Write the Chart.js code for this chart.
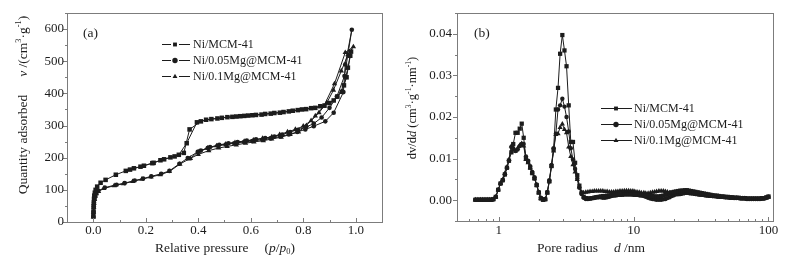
<!DOCTYPE html>
<html>
<head>
<meta charset="utf-8">
<script src="https://cdn.jsdelivr.net/npm/chart.js"></script>
<style>
    html, body { margin: 0; padding: 0; background: #ffffff; }
    #wrap { position: relative; width: 787px; height: 267px; }
    canvas { position: absolute; top: 0; }
</style>
</head>
<body>
<div id="wrap">
    <canvas id="isothermGraph" width="393" height="267" style="left:0px"></canvas>
    <canvas id="poreGraph" width="394" height="267" style="left:393px"></canvas>
</div>
<script>
// ---- (a) N2 isotherms: adsorption branch followed by desorption branch ----
var niP = [0.0005, 0.001, 0.0015, 0.002, 0.003, 0.004, 0.006, 0.009, 0.015, 0.028,
    0.047, 0.086, 0.124, 0.155, 0.193, 0.225, 0.256, 0.294, 0.326, 0.356,
    0.395, 0.43, 0.473, 0.511, 0.545, 0.575, 0.606, 0.641, 0.676, 0.711,
    0.745, 0.779, 0.811, 0.846, 0.881, 0.916, 0.947, 0.965, 0.979, 0.982,
    0.97, 0.955, 0.93, 0.9, 0.865, 0.83, 0.795, 0.76, 0.725, 0.69,
    0.655, 0.62, 0.59, 0.56, 0.53, 0.49, 0.45, 0.41, 0.367, 0.345,
    0.31, 0.27, 0.23, 0.18, 0.14];
var niV = [18, 33, 48, 60, 72, 82, 91, 100, 110, 122,
    131, 147, 159, 167, 175, 183, 192, 201, 209, 245,
    310, 318, 322, 326, 328, 330, 332, 334, 337, 340,
    344, 348, 351, 355, 362, 378, 405, 450, 517, 530,
    480, 425, 390, 370, 360, 354, 350, 346, 342, 339,
    336, 333, 331, 329, 327, 324, 320, 313, 288, 215,
    204, 195, 184, 172, 163];

var mg005P = [0.0005, 0.001, 0.002, 0.003, 0.005, 0.008, 0.012, 0.019, 0.044, 0.089,
    0.12, 0.158, 0.19, 0.221, 0.259, 0.29, 0.328, 0.36, 0.398, 0.436,
    0.474, 0.505, 0.537, 0.575, 0.606, 0.644, 0.676, 0.713, 0.745, 0.777,
    0.808, 0.84, 0.884, 0.916, 0.953, 0.96, 0.985, 0.957, 0.928, 0.9,
    0.87, 0.84, 0.81, 0.78, 0.75, 0.72, 0.69, 0.655, 0.62, 0.585,
    0.55, 0.515, 0.48, 0.445, 0.41];
var mg005V = [17, 32, 48, 60, 72, 82, 90, 97, 107, 116,
    121, 129, 135, 142, 150, 159, 181, 199, 218, 230,
    237, 241, 245, 249, 252, 256, 260, 266, 272, 280,
    288, 298, 313, 340, 404, 490, 598, 454, 390, 355,
    325, 306, 295, 287, 280, 272, 266, 261, 257, 253,
    249, 245, 240, 233, 222];

var mg01P = [0.0005, 0.001, 0.002, 0.003, 0.005, 0.008, 0.012, 0.02, 0.04, 0.08,
    0.115, 0.15, 0.185, 0.22, 0.255, 0.29, 0.33, 0.365, 0.4, 0.44,
    0.478, 0.51, 0.545, 0.58, 0.612, 0.648, 0.68, 0.716, 0.75, 0.782,
    0.812, 0.846, 0.878, 0.919, 0.96, 0.991, 0.97, 0.945, 0.915, 0.89,
    0.86, 0.83, 0.8, 0.77, 0.74, 0.71, 0.68, 0.645, 0.61, 0.575,
    0.54, 0.505, 0.47, 0.435, 0.4, 0.37];
var mg01V = [16, 30, 45, 58, 70, 80, 88, 95, 104, 113,
    119, 126, 133, 140, 147, 157, 180, 196, 210, 222,
    230, 235, 240, 245, 249, 253, 258, 264, 272, 280,
    300, 330, 360, 430, 527, 545, 520, 470, 410, 371,
    340, 315, 298, 288, 280, 272, 265, 260, 255, 251,
    247, 242, 237, 230, 218, 198];

var isoXTicks = [0, 0.2, 0.4, 0.6, 0.8, 1.0];
var isoXMinor = [-0.1, 0.1, 0.3, 0.5, 0.7, 0.9, 1.1];
var isoYTicks = [0, 100, 200, 300, 400, 500, 600];
var isoYMinor = [50, 150, 250, 350, 450, 550, 650];

// ---- (b) pore size distribution ----
var poreD = [0.67, 0.70, 0.73, 0.76, 0.79, 0.82, 0.85, 0.88, 0.91, 0.95,
    0.99, 1.03, 1.07, 1.11, 1.15, 1.19, 1.24, 1.28, 1.33, 1.38,
    1.43, 1.48, 1.53, 1.59, 1.65, 1.71, 1.77, 1.84, 1.91, 1.98,
    2.05, 2.13, 2.21, 2.29, 2.37, 2.46, 2.55, 2.65, 2.75, 2.85,
    2.96, 3.07, 3.18, 3.30, 3.42, 3.55, 3.68, 3.82, 3.96, 4.11,
    4.26, 4.42, 4.58, 4.75, 4.93, 5.11, 5.30, 5.50, 5.70, 5.91,
    6.13, 6.36, 6.60, 6.85, 7.10, 7.37, 7.64, 7.92, 8.22, 8.53,
    8.85, 9.18, 9.52, 9.87, 10.2, 10.6, 11.0, 11.4, 11.9, 12.3,
    12.8, 13.3, 13.8, 14.3, 14.8, 15.4, 16.0, 16.6, 17.2, 17.8,
    18.5, 19.2, 19.9, 20.6, 21.4, 22.2, 23.0, 23.9, 24.8, 25.7,
    26.7, 27.7, 28.7, 29.8, 30.9, 32.0, 33.2, 34.5, 35.8, 37.1,
    38.5, 40.0, 41.5, 43.0, 44.6, 46.3, 48.0, 49.8, 51.7, 53.6,
    55.6, 57.7, 59.9, 62.1, 64.4, 66.8, 69.3, 71.9, 74.6, 77.4,
    80.3, 83.3, 86.4, 89.7, 93.0, 96.5, 100];
var psdNi = [0.0001, 0.0001, 0.0001, 0.0001, 0.0001, 0.0001, 0.0001, 0.0001, 0.0002, 0.0008,
    0.0025, 0.0040, 0.0048, 0.0062, 0.0078, 0.0095, 0.0115, 0.0135, 0.0162, 0.0162,
    0.0172, 0.0184, 0.0150, 0.0100, 0.0092, 0.0078, 0.0065, 0.0052, 0.0036, 0.0018,
    0.0004, 0.0001, 0.0002, 0.0018, 0.0045, 0.0082, 0.0122, 0.0218, 0.0270, 0.0352,
    0.0397, 0.0360, 0.0322, 0.0228, 0.0140, 0.0140, 0.0090, 0.0060, 0.0035, 0.0018,
    0.0008, 0.0005, 0.0004, 0.0004, 0.0005, 0.0006, 0.0007, 0.0008, 0.0009, 0.0010,
    0.0010, 0.0011, 0.0011, 0.0012, 0.0012, 0.0012, 0.0013, 0.0013, 0.0013, 0.0014,
    0.0014, 0.0014, 0.0014, 0.0014, 0.0013, 0.0013, 0.0013, 0.0012, 0.0012, 0.0011,
    0.0011, 0.0010, 0.0010, 0.0009, 0.0009, 0.0009, 0.0010, 0.0011, 0.0013, 0.0015,
    0.0017, 0.0019, 0.0020, 0.0021, 0.0022, 0.0023, 0.0023, 0.0024, 0.0024, 0.0023,
    0.0022, 0.0021, 0.0020, 0.0019, 0.0018, 0.0017, 0.0016, 0.0015, 0.0014, 0.0013,
    0.0012, 0.0011, 0.0011, 0.0010, 0.0009, 0.0009, 0.0008, 0.0008, 0.0007, 0.0007,
    0.0006, 0.0006, 0.0006, 0.0005, 0.0005, 0.0005, 0.0004, 0.0004, 0.0004, 0.0004,
    0.0004, 0.0004, 0.0004, 0.0005, 0.0005, 0.0007, 0.0009];
var psdMg005 = [0.0001, 0.0001, 0.0001, 0.0001, 0.0001, 0.0001, 0.0001, 0.0001, 0.0002, 0.0008,
    0.0025, 0.0040, 0.0048, 0.0062, 0.0078, 0.0095, 0.0128, 0.0125, 0.0118, 0.0122,
    0.0130, 0.0135, 0.0135, 0.0105, 0.0095, 0.0082, 0.0068, 0.0055, 0.0038, 0.0020,
    0.0006, 0.0001, 0.0003, 0.0020, 0.0048, 0.0085, 0.0125, 0.0160, 0.0218, 0.0228,
    0.0244, 0.0225, 0.0200, 0.0165, 0.0125, 0.0098, 0.0075, 0.0052, 0.0030, 0.0015,
    0.0006, 0.0003, 0.0003, 0.0004, 0.0005, 0.0006, 0.0007, 0.0007, 0.0007, 0.0006,
    0.0006, 0.0007, 0.0008, 0.0010, 0.0011, 0.0012, 0.0013, 0.0014, 0.0015, 0.0015,
    0.0015, 0.0015, 0.0015, 0.0014, 0.0014, 0.0013, 0.0012, 0.0011, 0.0010, 0.0008,
    0.0006, 0.0004, 0.0003, 0.0002, 0.0001, 0.0001, 0.0001, 0.0002, 0.0003, 0.0005,
    0.0007, 0.0010, 0.0012, 0.0015, 0.0017, 0.0019, 0.0020, 0.0021, 0.0021, 0.0020,
    0.0019, 0.0018, 0.0017, 0.0016, 0.0015, 0.0014, 0.0013, 0.0012, 0.0011, 0.0011,
    0.0010, 0.0010, 0.0009, 0.0009, 0.0008, 0.0008, 0.0007, 0.0007, 0.0006, 0.0006,
    0.0005, 0.0005, 0.0005, 0.0004, 0.0004, 0.0004, 0.0003, 0.0003, 0.0003, 0.0003,
    0.0003, 0.0003, 0.0003, 0.0004, 0.0004, 0.0006, 0.0008];
var psdMg01 = [0.0001, 0.0001, 0.0001, 0.0001, 0.0001, 0.0001, 0.0001, 0.0001, 0.0002, 0.0008,
    0.0025, 0.0040, 0.0050, 0.0065, 0.0080, 0.0098, 0.0130, 0.0122, 0.0118, 0.0125,
    0.0132, 0.0136, 0.0130, 0.0098, 0.0090, 0.0078, 0.0066, 0.0053, 0.0036, 0.0018,
    0.0004, 0.0001, 0.0002, 0.0018, 0.0046, 0.0082, 0.0118, 0.0158, 0.0160, 0.0175,
    0.0183, 0.0170, 0.0162, 0.0128, 0.0105, 0.0085, 0.0068, 0.0050, 0.0032, 0.0020,
    0.0018, 0.0019, 0.0020, 0.0021, 0.0021, 0.0022, 0.0022, 0.0022, 0.0022, 0.0022,
    0.0021, 0.0021, 0.0020, 0.0020, 0.0020, 0.0021, 0.0021, 0.0022, 0.0022, 0.0023,
    0.0023, 0.0023, 0.0022, 0.0022, 0.0021, 0.0020, 0.0019, 0.0018, 0.0018, 0.0017,
    0.0017, 0.0018, 0.0019, 0.0020, 0.0021, 0.0022, 0.0022, 0.0022, 0.0021, 0.0020,
    0.0018, 0.0016, 0.0014, 0.0013, 0.0013, 0.0014, 0.0015, 0.0016, 0.0016, 0.0016,
    0.0015, 0.0015, 0.0014, 0.0013, 0.0012, 0.0012, 0.0011, 0.0010, 0.0010, 0.0009,
    0.0009, 0.0008, 0.0008, 0.0007, 0.0007, 0.0007, 0.0006, 0.0006, 0.0006, 0.0005,
    0.0005, 0.0005, 0.0004, 0.0004, 0.0004, 0.0004, 0.0003, 0.0003, 0.0003, 0.0003,
    0.0003, 0.0003, 0.0003, 0.0003, 0.0004, 0.0005, 0.0007];

var poreXTicks = [1, 10, 100];
var poreXMinor = [0.6, 0.7, 0.8, 0.9, 2, 3, 4, 5, 6, 7, 8, 9, 20, 30, 40, 50, 60, 70, 80, 90];
var poreYTicks = [0, 0.01, 0.02, 0.03, 0.04];
var poreYMinor = [-0.005, 0.005, 0.015, 0.025, 0.035, 0.045];

var sampleNames = ["Ni/MCM-41", "Ni/0.05Mg@MCM-41", "Ni/0.1Mg@MCM-41"];

var FONT = "'Liberation Serif', 'Times New Roman', serif";
var INK = "#1c1c1c";
var FRAME = "#7c7c7c";

function to_points(xs, ys) {
    var pts = [];
    for (var i = 0; i < xs.length; i++) {
        pts.push({ x: xs[i], y: ys[i] });
    }
    return pts;
}

function mark(ctx, style, x, y, r) {
    ctx.beginPath();
    if (style == "rect") {
        ctx.rect(x - r * 0.72, y - r * 0.72, r * 1.44, r * 1.44);
    } else if (style == "triangle") {
        ctx.moveTo(x, y - r);
        ctx.lineTo(x + r * 0.9, y + r * 0.6);
        ctx.lineTo(x - r * 0.9, y + r * 0.6);
        ctx.closePath();
    } else {
        ctx.arc(x, y, r, 0, Math.PI * 2);
    }
    ctx.fill();
}

// draws text made of pieces (italic, superscript, subscript, gaps) centred on cx, cy
function draw_rich(ctx, parts, cx, cy, angle, size) {
    ctx.save();
    ctx.translate(cx, cy);
    ctx.rotate(angle);
    ctx.textBaseline = "middle";
    ctx.textAlign = "left";
    ctx.fillStyle = INK;
    var widths = [];
    var total = 0;
    parts.forEach(function (p) {
        var w = p.gap || 0;
        if (p.t) {
            var s = (p.sup || p.sub) ? size * 0.62 : size;
            ctx.font = (p.italic ? "italic " : "") + s + "px " + FONT;
            w = ctx.measureText(p.t).width;
        }
        widths.push(w);
        total += w;
    });
    var x = -total / 2;
    parts.forEach(function (p, i) {
        if (p.t) {
            var s = (p.sup || p.sub) ? size * 0.62 : size;
            ctx.font = (p.italic ? "italic " : "") + s + "px " + FONT;
            var dy = p.sup ? -size * 0.32 : (p.sub ? size * 0.28 : 0);
            ctx.fillText(p.t, x, dy);
        }
        x += widths[i];
    });
    ctx.restore();
}

var decorPlugin = {
    id: "decor",
    afterDraw: function (chart) {
        var o = chart.options.plugins.decor;
        var ctx = chart.ctx;
        var a = chart.chartArea;
        var xs = chart.scales.x;
        var ys = chart.scales.y;
        ctx.save();
        ctx.strokeStyle = FRAME;
        ctx.lineWidth = 1;
        ctx.strokeRect(Math.round(a.left) + 0.5, Math.round(a.top) + 0.5,
            Math.round(a.right - a.left), Math.round(a.bottom - a.top));

        ctx.beginPath();
        o.xMajor.forEach(function (v) {
            var px = Math.round(xs.getPixelForValue(v)) + 0.5;
            ctx.moveTo(px, a.bottom);
            ctx.lineTo(px, a.bottom - 4);
        });
        o.xMinor.forEach(function (v) {
            var px = Math.round(xs.getPixelForValue(v)) + 0.5;
            ctx.moveTo(px, a.bottom);
            ctx.lineTo(px, a.bottom - 2);
        });
        o.yMajor.forEach(function (v) {
            var py = Math.round(ys.getPixelForValue(v)) + 0.5;
            ctx.moveTo(a.left, py);
            ctx.lineTo(a.left - 4, py);
        });
        o.yMinor.forEach(function (v) {
            var py = Math.round(ys.getPixelForValue(v)) + 0.5;
            ctx.moveTo(a.left, py);
            ctx.lineTo(a.left - 2, py);
        });
        ctx.stroke();

        ctx.fillStyle = INK;

        // y tick labels placed on the library's y scale
        if (o.yLabels) {
            ctx.font = "13px " + FONT;
            ctx.textAlign = "right";
            ctx.textBaseline = "middle";
            o.yLabels.forEach(function (v) {
                ctx.fillText(String(v), a.left - o.yLabelPad, ys.getPixelForValue(v));
            });
        }

        ctx.font = "13.5px " + FONT;
        ctx.textBaseline = "middle";
        ctx.textAlign = "left";
        ctx.fillText(o.panel, o.panelX, o.panelY);

        draw_rich(ctx, o.xTitle, o.xTitleX, o.xTitleY, 0, 13.5);
        draw_rich(ctx, o.yTitle, o.yTitleX, o.yTitleY, -Math.PI / 2, o.yTitleSize);

        // legend
        var lg = o.legend;
        ctx.font = "12px " + FONT;
        chart.data.datasets.forEach(function (ds, i) {
            var y = Math.round(lg.y + i * lg.step) + 0.5;
            ctx.strokeStyle = INK;
            ctx.fillStyle = INK;
            ctx.beginPath();
            if (lg.gap) {
                ctx.moveTo(lg.x0, y);
                ctx.lineTo(lg.mx - lg.gap, y);
                ctx.moveTo(lg.mx + lg.gap, y);
                ctx.lineTo(lg.x1, y);
            } else {
                ctx.moveTo(lg.x0, y);
                ctx.lineTo(lg.x1, y);
            }
            ctx.stroke();
            mark(ctx, ds.pointStyle, lg.mx, y, lg.r);
            ctx.fillText(ds.label, lg.tx, y);
        });
        ctx.restore();
    }
};

function make_dataset(label, pts, style, radius) {
    return {
        label: label,
        data: pts,
        showLine: true,
        borderColor: INK,
        backgroundColor: INK,
        borderWidth: 1,
        pointStyle: style,
        pointRadius: radius,
        pointBorderWidth: 0,
        tension: 0
    };
}

function tick_options(fmt) {
    return {
        autoSkip: false, maxRotation: 0, color: INK,
        font: { family: FONT, size: 13 },
        callback: fmt
    };
}

function create_isotherm_graph() {
    var xTicks = tick_options(function (v) { return Number(v).toFixed(1); });
    xTicks.padding = 1;
    var config = {
        type: "scatter",
        data: {
            datasets: [
                make_dataset(sampleNames[0], to_points(niP, niV), "rect", 3.2),
                make_dataset(sampleNames[1], to_points(mg005P, mg005V), "circle", 2.3),
                make_dataset(sampleNames[2], to_points(mg01P, mg01V), "triangle", 3.1)
            ]
        },
        plugins: [decorPlugin],
        options: {
            responsive: false,
            animation: false,
            devicePixelRatio: 1,
            layout: { padding: { top: 13, right: 11, left: 0, bottom: 0 } },
            plugins: {
                legend: { display: false },
                tooltip: { enabled: false },
                decor: {
                    xMajor: isoXTicks, xMinor: isoXMinor, yMajor: isoYTicks, yMinor: isoYMinor,
                    yLabels: isoYTicks, yLabelPad: 3,
                    panel: "(a)", panelX: 83, panelY: 33,
                    xTitle: [{ t: "Relative pressure" }, { gap: 16 }, { t: "(" }, { t: "p", italic: true },
                        { t: "/" }, { t: "p", italic: true }, { t: "0", sub: true }, { t: ")" }],
                    xTitleX: 225, xTitleY: 248,
                    yTitle: [{ t: "Quantity adsorbed" }, { gap: 18 }, { t: "v", italic: true }, { t: " /(cm" },
                        { t: "3", sup: true }, { t: "·g" }, { t: "-1", sup: true }, { t: ")" }],
                    yTitleX: 23, yTitleY: 105, yTitleSize: 13.5,
                    legend: { x0: 162, x1: 190, mx: 175, gap: 4, r: 2.7, tx: 193, y: 44, step: 16.2 }
                }
            },
            scales: {
                x: {
                    type: "linear",
                    min: -0.1,
                    max: 1.1,
                    grid: { display: false, drawTicks: false },
                    border: { display: false },
                    afterBuildTicks: function (s) { s.ticks = isoXTicks.map(function (v) { return { value: v }; }); },
                    afterFit: function (s) { s.height = 45; },
                    ticks: xTicks
                },
                y: {
                    type: "linear",
                    min: 0,
                    max: 650,
                    grid: { display: false, drawTicks: false },
                    border: { display: false },
                    afterFit: function (s) { s.width = 67; },
                    ticks: { display: false }
                }
            }
        }
    };
    return new Chart("isothermGraph", config);
}

function create_pore_graph() {
    var xTicks = tick_options(function (v) { return String(v); });
    xTicks.padding = 2;
    var yTicks = tick_options(function (v) { return Number(v).toFixed(2); });
    yTicks.padding = 5;
    var config = {
        type: "scatter",
        data: {
            datasets: [
                make_dataset(sampleNames[0], to_points(poreD, psdNi), "rect", 3),
                make_dataset(sampleNames[1], to_points(poreD, psdMg005), "circle", 2.2),
                make_dataset(sampleNames[2], to_points(poreD, psdMg01), "triangle", 3)
            ]
        },
        plugins: [decorPlugin],
        options: {
            responsive: false,
            animation: false,
            devicePixelRatio: 1,
            layout: { padding: { top: 13, right: 14, left: 0, bottom: 0 } },
            plugins: {
                legend: { display: false },
                tooltip: { enabled: false },
                decor: {
                    xMajor: poreXTicks, xMinor: poreXMinor, yMajor: poreYTicks, yMinor: poreYMinor,
                    panel: "(b)", panelX: 81, panelY: 33,
                    xTitle: [{ t: "Pore radius" }, { gap: 16 }, { t: "d", italic: true }, { t: " /nm" }],
                    xTitleX: 198, xTitleY: 248,
                    yTitle: [{ t: "dv/d" }, { t: "d", italic: true }, { t: " (cm" }, { t: "3", sup: true },
                        { t: "·g" }, { t: "-1", sup: true }, { t: "·nm" }, { t: "-1", sup: true }, { t: ")" }],
                    yTitleX: 20, yTitleY: 108, yTitleSize: 12.5,
                    legend: { x0: 208, x1: 239, mx: 223, gap: 0, r: 2.7, tx: 241, y: 108, step: 16 }
                }
            },
            scales: {
                x: {
                    type: "logarithmic",
                    min: 0.49,
                    max: 108,
                    grid: { display: false, drawTicks: false },
                    border: { display: false },
                    afterBuildTicks: function (s) { s.ticks = poreXTicks.map(function (v) { return { value: v }; }); },
                    afterFit: function (s) { s.height = 46; },
                    ticks: xTicks
                },
                y: {
                    type: "linear",
                    min: -0.005,
                    max: 0.045,
                    grid: { display: false, drawTicks: false },
                    border: { display: false },
                    afterBuildTicks: function (s) { s.ticks = poreYTicks.map(function (v) { return { value: v }; }); },
                    afterFit: function (s) { s.width = 64; },
                    ticks: yTicks
                }
            }
        }
    };
    return new Chart("poreGraph", config);
}

var isothermGraph = create_isotherm_graph();
var poreGraph = create_pore_graph();
</script>
</body>
</html>
